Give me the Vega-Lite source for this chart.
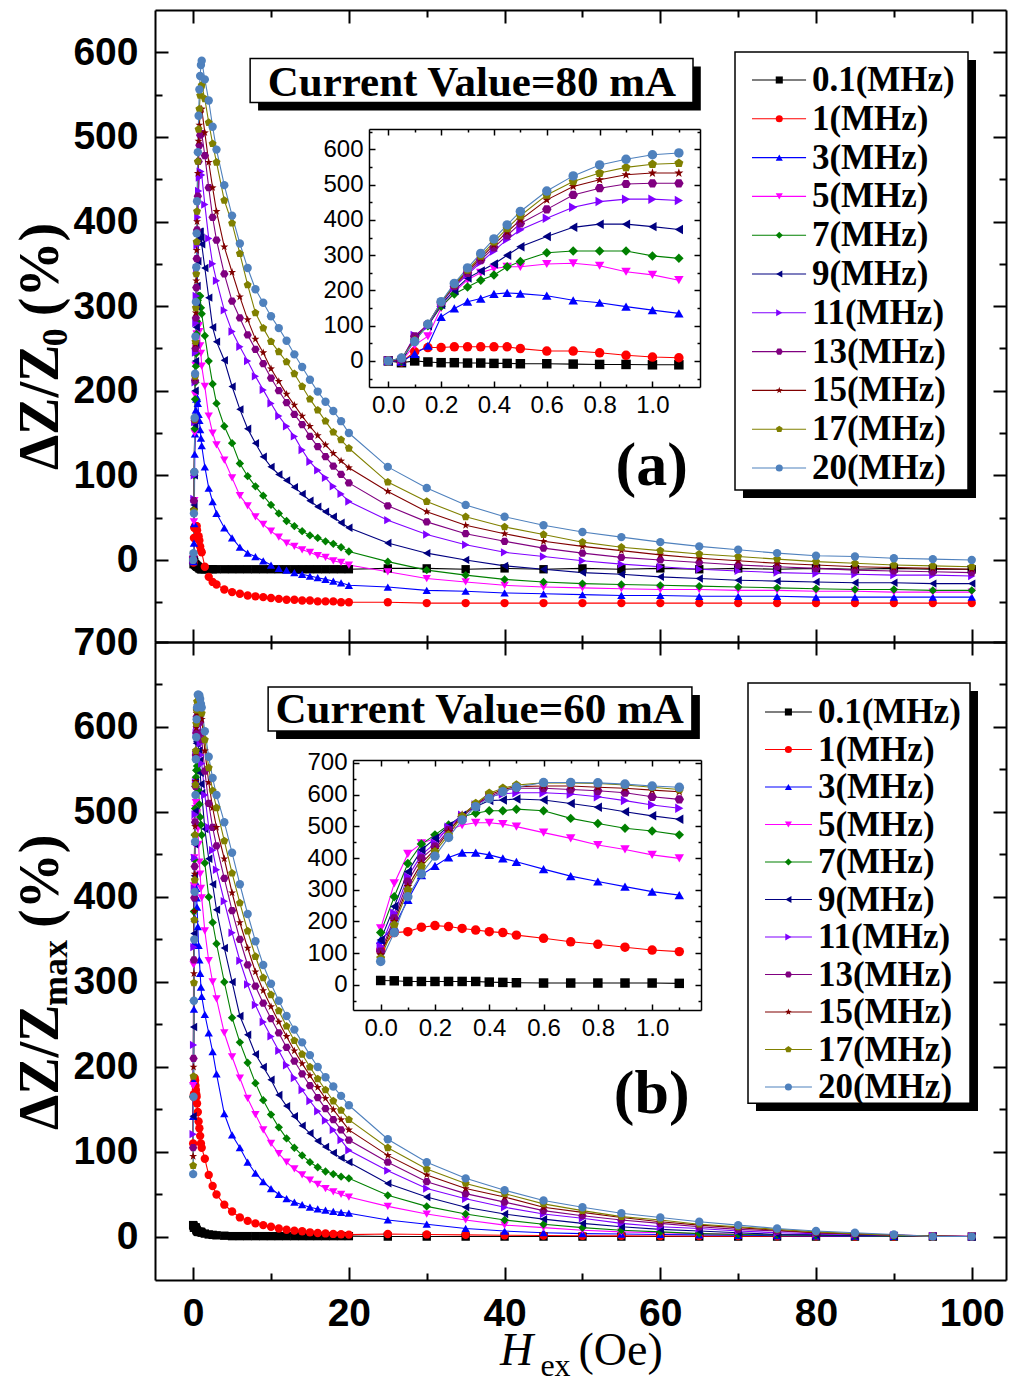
{
"$schema":"https://vega.github.io/schema/vega-lite/v6.json",
"width":851,"height":1270,
"autosize":{"type":"none"},
"padding":{"left":155,"top":10,"right":3,"bottom":103},
"background":"white",
"config":{"view":{"stroke":null},"axis":{"domainColor":"black","domainWidth":2,"tickColor":"black","tickWidth":2,"grid":false,"labelColor":"black","labelFlush":false,"labelOverlap":false}},
"datasets":{
"one":[{"k":0}],
"leg":[{"s":"0.1","label":"0.1(MHz)","r":0},{"s":"1","label":"1(MHz)","r":1},{"s":"3","label":"3(MHz)","r":2},{"s":"5","label":"5(MHz)","r":3},{"s":"7","label":"7(MHz)","r":4},{"s":"9","label":"9(MHz)","r":5},{"s":"11","label":"11(MHz)","r":6},{"s":"13","label":"13(MHz)","r":7},{"s":"15","label":"15(MHz)","r":8},{"s":"17","label":"17(MHz)","r":9},{"s":"20","label":"20(MHz)","r":10}],
"pa":[
{"s":"0.1","h":0,"z":0},{"s":"0.1","h":0.05,"z":-5},{"s":"0.1","h":0.1,"z":0},{"s":"0.1","h":0.15,"z":-3},{"s":"0.1","h":0.2,"z":-5},{"s":"0.1","h":0.25,"z":-5},{"s":"0.1","h":0.3,"z":-6},{"s":"0.1","h":0.35,"z":-6},{"s":"0.1","h":0.4,"z":-7},{"s":"0.1","h":0.45,"z":-7},{"s":"0.1","h":0.5,"z":-8},{"s":"0.1","h":0.6,"z":-8},{"s":"0.1","h":0.7,"z":-9},{"s":"0.1","h":0.8,"z":-10},{"s":"0.1","h":0.9,"z":-10},{"s":"0.1","h":1,"z":-11},{"s":"0.1","h":1.1,"z":-11},{"s":"0.1","h":1.5,"z":-11},{"s":"0.1","h":2,"z":-11},{"s":"0.1","h":2.5,"z":-11},{"s":"0.1","h":3,"z":-11},{"s":"0.1","h":4,"z":-11},{"s":"0.1","h":5,"z":-11},{"s":"0.1","h":6,"z":-11},{"s":"0.1","h":7,"z":-11},{"s":"0.1","h":8,"z":-11},{"s":"0.1","h":9,"z":-11},{"s":"0.1","h":10,"z":-11},{"s":"0.1","h":11,"z":-11},{"s":"0.1","h":12,"z":-11},{"s":"0.1","h":13,"z":-11},{"s":"0.1","h":14,"z":-11},{"s":"0.1","h":15,"z":-11},{"s":"0.1","h":16,"z":-11},{"s":"0.1","h":17,"z":-11},{"s":"0.1","h":18,"z":-11},{"s":"0.1","h":19,"z":-11},{"s":"0.1","h":20,"z":-11},{"s":"0.1","h":25,"z":-10},{"s":"0.1","h":30,"z":-10},{"s":"0.1","h":35,"z":-11},{"s":"0.1","h":40,"z":-10},{"s":"0.1","h":45,"z":-11},{"s":"0.1","h":50,"z":-10},{"s":"0.1","h":55,"z":-11},{"s":"0.1","h":60,"z":-10},{"s":"0.1","h":65,"z":-11},{"s":"0.1","h":70,"z":-10},{"s":"0.1","h":75,"z":-11},{"s":"0.1","h":80,"z":-10},{"s":"0.1","h":85,"z":-11},{"s":"0.1","h":90,"z":-10},{"s":"0.1","h":95,"z":-11},{"s":"0.1","h":100,"z":-11},
{"s":"1","h":0,"z":0},{"s":"1","h":0.05,"z":-3},{"s":"1","h":0.1,"z":26},{"s":"1","h":0.15,"z":38},{"s":"1","h":0.2,"z":38},{"s":"1","h":0.25,"z":40},{"s":"1","h":0.3,"z":40},{"s":"1","h":0.35,"z":40},{"s":"1","h":0.4,"z":40},{"s":"1","h":0.45,"z":40},{"s":"1","h":0.5,"z":35},{"s":"1","h":0.6,"z":28},{"s":"1","h":0.7,"z":28},{"s":"1","h":0.8,"z":23},{"s":"1","h":0.9,"z":16},{"s":"1","h":1,"z":11},{"s":"1","h":1.1,"z":9},{"s":"1","h":1.5,"z":-8},{"s":"1","h":2,"z":-20},{"s":"1","h":2.5,"z":-26},{"s":"1","h":3,"z":-29},{"s":"1","h":4,"z":-35},{"s":"1","h":5,"z":-38},{"s":"1","h":6,"z":-40},{"s":"1","h":7,"z":-42},{"s":"1","h":8,"z":-43},{"s":"1","h":9,"z":-44},{"s":"1","h":10,"z":-45},{"s":"1","h":11,"z":-46},{"s":"1","h":12,"z":-47},{"s":"1","h":13,"z":-47},{"s":"1","h":14,"z":-48},{"s":"1","h":15,"z":-48},{"s":"1","h":16,"z":-49},{"s":"1","h":17,"z":-49},{"s":"1","h":18,"z":-49},{"s":"1","h":19,"z":-50},{"s":"1","h":20,"z":-50},{"s":"1","h":25,"z":-50},{"s":"1","h":30,"z":-51},{"s":"1","h":35,"z":-51},{"s":"1","h":40,"z":-51},{"s":"1","h":45,"z":-51},{"s":"1","h":50,"z":-51},{"s":"1","h":55,"z":-51},{"s":"1","h":60,"z":-51},{"s":"1","h":65,"z":-51},{"s":"1","h":70,"z":-51},{"s":"1","h":75,"z":-51},{"s":"1","h":80,"z":-51},{"s":"1","h":85,"z":-51},{"s":"1","h":90,"z":-51},{"s":"1","h":95,"z":-51},{"s":"1","h":100,"z":-51},
{"s":"3","h":0,"z":0},{"s":"3","h":0.05,"z":-2},{"s":"3","h":0.1,"z":20},{"s":"3","h":0.15,"z":43},{"s":"3","h":0.2,"z":125},{"s":"3","h":0.25,"z":149},{"s":"3","h":0.3,"z":168},{"s":"3","h":0.35,"z":177},{"s":"3","h":0.4,"z":190},{"s":"3","h":0.45,"z":193},{"s":"3","h":0.5,"z":191},{"s":"3","h":0.6,"z":185},{"s":"3","h":0.7,"z":172},{"s":"3","h":0.8,"z":165},{"s":"3","h":0.9,"z":154},{"s":"3","h":1,"z":144},{"s":"3","h":1.1,"z":135},{"s":"3","h":1.5,"z":110},{"s":"3","h":2,"z":85},{"s":"3","h":2.5,"z":69},{"s":"3","h":3,"z":55},{"s":"3","h":4,"z":38},{"s":"3","h":5,"z":26},{"s":"3","h":6,"z":15},{"s":"3","h":7,"z":8},{"s":"3","h":8,"z":4},{"s":"3","h":9,"z":-1},{"s":"3","h":10,"z":-6},{"s":"3","h":11,"z":-10},{"s":"3","h":12,"z":-12},{"s":"3","h":13,"z":-15},{"s":"3","h":14,"z":-17},{"s":"3","h":15,"z":-19},{"s":"3","h":16,"z":-21},{"s":"3","h":17,"z":-23},{"s":"3","h":18,"z":-25},{"s":"3","h":19,"z":-27},{"s":"3","h":20,"z":-30},{"s":"3","h":25,"z":-32},{"s":"3","h":30,"z":-36},{"s":"3","h":35,"z":-37},{"s":"3","h":40,"z":-39},{"s":"3","h":45,"z":-40},{"s":"3","h":50,"z":-41},{"s":"3","h":55,"z":-42},{"s":"3","h":60,"z":-42},{"s":"3","h":65,"z":-43},{"s":"3","h":70,"z":-43},{"s":"3","h":75,"z":-43},{"s":"3","h":80,"z":-44},{"s":"3","h":85,"z":-44},{"s":"3","h":90,"z":-44},{"s":"3","h":95,"z":-44},{"s":"3","h":100,"z":-44},
{"s":"5","h":0,"z":0},{"s":"5","h":0.05,"z":0},{"s":"5","h":0.1,"z":45},{"s":"5","h":0.15,"z":70},{"s":"5","h":0.2,"z":150},{"s":"5","h":0.25,"z":195},{"s":"5","h":0.3,"z":230},{"s":"5","h":0.35,"z":250},{"s":"5","h":0.4,"z":262},{"s":"5","h":0.45,"z":267},{"s":"5","h":0.5,"z":267},{"s":"5","h":0.6,"z":275},{"s":"5","h":0.7,"z":277},{"s":"5","h":0.8,"z":270},{"s":"5","h":0.9,"z":253},{"s":"5","h":1,"z":244},{"s":"5","h":1.1,"z":229},{"s":"5","h":1.5,"z":205},{"s":"5","h":2,"z":170},{"s":"5","h":2.5,"z":150},{"s":"5","h":3,"z":136},{"s":"5","h":4,"z":118},{"s":"5","h":5,"z":97},{"s":"5","h":6,"z":76},{"s":"5","h":7,"z":64},{"s":"5","h":8,"z":51},{"s":"5","h":9,"z":42},{"s":"5","h":10,"z":34},{"s":"5","h":11,"z":27},{"s":"5","h":12,"z":20},{"s":"5","h":13,"z":16},{"s":"5","h":14,"z":12},{"s":"5","h":15,"z":9},{"s":"5","h":16,"z":5},{"s":"5","h":17,"z":3},{"s":"5","h":18,"z":-1},{"s":"5","h":19,"z":-3},{"s":"5","h":20,"z":-6},{"s":"5","h":25,"z":-14},{"s":"5","h":30,"z":-22},{"s":"5","h":35,"z":-26},{"s":"5","h":40,"z":-30},{"s":"5","h":45,"z":-32},{"s":"5","h":50,"z":-33},{"s":"5","h":55,"z":-34},{"s":"5","h":60,"z":-35},{"s":"5","h":65,"z":-35},{"s":"5","h":70,"z":-36},{"s":"5","h":75,"z":-36},{"s":"5","h":80,"z":-37},{"s":"5","h":85,"z":-37},{"s":"5","h":90,"z":-38},{"s":"5","h":95,"z":-38},{"s":"5","h":100,"z":-38},
{"s":"7","h":0,"z":0},{"s":"7","h":0.05,"z":0},{"s":"7","h":0.1,"z":60},{"s":"7","h":0.15,"z":100},{"s":"7","h":0.2,"z":155},{"s":"7","h":0.25,"z":190},{"s":"7","h":0.3,"z":210},{"s":"7","h":0.35,"z":229},{"s":"7","h":0.4,"z":244},{"s":"7","h":0.45,"z":267},{"s":"7","h":0.5,"z":282},{"s":"7","h":0.6,"z":307},{"s":"7","h":0.7,"z":312},{"s":"7","h":0.8,"z":312},{"s":"7","h":0.9,"z":312},{"s":"7","h":1,"z":298},{"s":"7","h":1.1,"z":291},{"s":"7","h":1.5,"z":265},{"s":"7","h":2,"z":235},{"s":"7","h":2.5,"z":208},{"s":"7","h":3,"z":185},{"s":"7","h":4,"z":158},{"s":"7","h":5,"z":138},{"s":"7","h":6,"z":114},{"s":"7","h":7,"z":99},{"s":"7","h":8,"z":87},{"s":"7","h":9,"z":76},{"s":"7","h":10,"z":65},{"s":"7","h":11,"z":55},{"s":"7","h":12,"z":46},{"s":"7","h":13,"z":40},{"s":"7","h":14,"z":34},{"s":"7","h":15,"z":29},{"s":"7","h":16,"z":26},{"s":"7","h":17,"z":22},{"s":"7","h":18,"z":19},{"s":"7","h":19,"z":15},{"s":"7","h":20,"z":10},{"s":"7","h":25,"z":-2},{"s":"7","h":30,"z":-12},{"s":"7","h":35,"z":-18},{"s":"7","h":40,"z":-23},{"s":"7","h":45,"z":-26},{"s":"7","h":50,"z":-28},{"s":"7","h":55,"z":-29},{"s":"7","h":60,"z":-30},{"s":"7","h":65,"z":-31},{"s":"7","h":70,"z":-32},{"s":"7","h":75,"z":-33},{"s":"7","h":80,"z":-34},{"s":"7","h":85,"z":-35},{"s":"7","h":90,"z":-35},{"s":"7","h":95,"z":-36},{"s":"7","h":100,"z":-36},
{"s":"9","h":0,"z":0},{"s":"9","h":0.05,"z":0},{"s":"9","h":0.1,"z":65},{"s":"9","h":0.15,"z":100},{"s":"9","h":0.2,"z":160},{"s":"9","h":0.25,"z":200},{"s":"9","h":0.3,"z":235},{"s":"9","h":0.35,"z":255},{"s":"9","h":0.4,"z":275},{"s":"9","h":0.45,"z":300},{"s":"9","h":0.5,"z":324},{"s":"9","h":0.6,"z":353},{"s":"9","h":0.7,"z":379},{"s":"9","h":0.8,"z":388},{"s":"9","h":0.9,"z":388},{"s":"9","h":1,"z":381},{"s":"9","h":1.1,"z":373},{"s":"9","h":1.5,"z":345},{"s":"9","h":2,"z":310},{"s":"9","h":2.5,"z":275},{"s":"9","h":3,"z":258},{"s":"9","h":4,"z":236},{"s":"9","h":5,"z":205},{"s":"9","h":6,"z":178},{"s":"9","h":7,"z":155},{"s":"9","h":8,"z":138},{"s":"9","h":9,"z":122},{"s":"9","h":10,"z":110},{"s":"9","h":11,"z":101},{"s":"9","h":12,"z":94},{"s":"9","h":13,"z":86},{"s":"9","h":14,"z":78},{"s":"9","h":15,"z":70},{"s":"9","h":16,"z":63},{"s":"9","h":17,"z":57},{"s":"9","h":18,"z":51},{"s":"9","h":19,"z":44},{"s":"9","h":20,"z":38},{"s":"9","h":25,"z":20},{"s":"9","h":30,"z":8},{"s":"9","h":35,"z":0},{"s":"9","h":40,"z":-7},{"s":"9","h":45,"z":-11},{"s":"9","h":50,"z":-15},{"s":"9","h":55,"z":-17},{"s":"9","h":60,"z":-20},{"s":"9","h":65,"z":-22},{"s":"9","h":70,"z":-24},{"s":"9","h":75,"z":-25},{"s":"9","h":80,"z":-26},{"s":"9","h":85,"z":-27},{"s":"9","h":90,"z":-27},{"s":"9","h":95,"z":-28},{"s":"9","h":100,"z":-28},
{"s":"11","h":0,"z":0},{"s":"11","h":0.05,"z":2},{"s":"11","h":0.1,"z":72},{"s":"11","h":0.15,"z":100},{"s":"11","h":0.2,"z":163},{"s":"11","h":0.25,"z":210},{"s":"11","h":0.3,"z":245},{"s":"11","h":0.35,"z":280},{"s":"11","h":0.4,"z":312},{"s":"11","h":0.45,"z":345},{"s":"11","h":0.5,"z":372},{"s":"11","h":0.6,"z":405},{"s":"11","h":0.7,"z":436},{"s":"11","h":0.8,"z":452},{"s":"11","h":0.9,"z":459},{"s":"11","h":1,"z":459},{"s":"11","h":1.1,"z":455},{"s":"11","h":1.5,"z":420},{"s":"11","h":2,"z":380},{"s":"11","h":2.5,"z":350},{"s":"11","h":3,"z":330},{"s":"11","h":4,"z":295},{"s":"11","h":5,"z":270},{"s":"11","h":6,"z":252},{"s":"11","h":7,"z":235},{"s":"11","h":8,"z":217},{"s":"11","h":9,"z":201},{"s":"11","h":10,"z":185},{"s":"11","h":11,"z":170},{"s":"11","h":12,"z":158},{"s":"11","h":13,"z":146},{"s":"11","h":14,"z":130},{"s":"11","h":15,"z":116},{"s":"11","h":16,"z":106},{"s":"11","h":17,"z":97},{"s":"11","h":18,"z":87},{"s":"11","h":19,"z":78},{"s":"11","h":20,"z":69},{"s":"11","h":25,"z":47},{"s":"11","h":30,"z":30},{"s":"11","h":35,"z":18},{"s":"11","h":40,"z":9},{"s":"11","h":45,"z":4},{"s":"11","h":50,"z":-1},{"s":"11","h":55,"z":-5},{"s":"11","h":60,"z":-8},{"s":"11","h":65,"z":-11},{"s":"11","h":70,"z":-13},{"s":"11","h":75,"z":-15},{"s":"11","h":80,"z":-16},{"s":"11","h":85,"z":-17},{"s":"11","h":90,"z":-18},{"s":"11","h":95,"z":-18},{"s":"11","h":100,"z":-19},
{"s":"13","h":0,"z":0},{"s":"13","h":0.05,"z":4},{"s":"13","h":0.1,"z":70},{"s":"13","h":0.15,"z":104},{"s":"13","h":0.2,"z":165},{"s":"13","h":0.25,"z":212},{"s":"13","h":0.3,"z":250},{"s":"13","h":0.35,"z":286},{"s":"13","h":0.4,"z":322},{"s":"13","h":0.45,"z":356},{"s":"13","h":0.5,"z":390},{"s":"13","h":0.6,"z":430},{"s":"13","h":0.7,"z":471},{"s":"13","h":0.8,"z":490},{"s":"13","h":0.9,"z":502},{"s":"13","h":1,"z":504},{"s":"13","h":1.1,"z":504},{"s":"13","h":1.5,"z":478},{"s":"13","h":2,"z":440},{"s":"13","h":2.5,"z":405},{"s":"13","h":3,"z":378},{"s":"13","h":4,"z":338},{"s":"13","h":5,"z":306},{"s":"13","h":6,"z":286},{"s":"13","h":7,"z":266},{"s":"13","h":8,"z":249},{"s":"13","h":9,"z":232},{"s":"13","h":10,"z":215},{"s":"13","h":11,"z":200},{"s":"13","h":12,"z":186},{"s":"13","h":13,"z":172},{"s":"13","h":14,"z":160},{"s":"13","h":15,"z":146},{"s":"13","h":16,"z":134},{"s":"13","h":17,"z":122},{"s":"13","h":18,"z":111},{"s":"13","h":19,"z":101},{"s":"13","h":20,"z":91},{"s":"13","h":25,"z":64},{"s":"13","h":30,"z":45},{"s":"13","h":35,"z":31},{"s":"13","h":40,"z":22},{"s":"13","h":45,"z":14},{"s":"13","h":50,"z":8},{"s":"13","h":55,"z":3},{"s":"13","h":60,"z":0},{"s":"13","h":65,"z":-3},{"s":"13","h":70,"z":-6},{"s":"13","h":75,"z":-8},{"s":"13","h":80,"z":-10},{"s":"13","h":85,"z":-12},{"s":"13","h":90,"z":-13},{"s":"13","h":95,"z":-14},{"s":"13","h":100,"z":-15},
{"s":"15","h":0,"z":0},{"s":"15","h":0.05,"z":6},{"s":"15","h":0.1,"z":60},{"s":"15","h":0.15,"z":104},{"s":"15","h":0.2,"z":166},{"s":"15","h":0.25,"z":215},{"s":"15","h":0.3,"z":255},{"s":"15","h":0.35,"z":292},{"s":"15","h":0.4,"z":330},{"s":"15","h":0.45,"z":366},{"s":"15","h":0.5,"z":400},{"s":"15","h":0.6,"z":457},{"s":"15","h":0.7,"z":495},{"s":"15","h":0.8,"z":514},{"s":"15","h":0.9,"z":528},{"s":"15","h":1,"z":533},{"s":"15","h":1.1,"z":533},{"s":"15","h":1.5,"z":505},{"s":"15","h":2,"z":470},{"s":"15","h":2.5,"z":440},{"s":"15","h":3,"z":412},{"s":"15","h":4,"z":370},{"s":"15","h":5,"z":340},{"s":"15","h":6,"z":311},{"s":"15","h":7,"z":284},{"s":"15","h":8,"z":261},{"s":"15","h":9,"z":245},{"s":"15","h":10,"z":226},{"s":"15","h":11,"z":211},{"s":"15","h":12,"z":196},{"s":"15","h":13,"z":183},{"s":"15","h":14,"z":170},{"s":"15","h":15,"z":158},{"s":"15","h":16,"z":147},{"s":"15","h":17,"z":136},{"s":"15","h":18,"z":126},{"s":"15","h":19,"z":117},{"s":"15","h":20,"z":109},{"s":"15","h":25,"z":81},{"s":"15","h":30,"z":57},{"s":"15","h":35,"z":41},{"s":"15","h":40,"z":31},{"s":"15","h":45,"z":22},{"s":"15","h":50,"z":16},{"s":"15","h":55,"z":11},{"s":"15","h":60,"z":6},{"s":"15","h":65,"z":2},{"s":"15","h":70,"z":-1},{"s":"15","h":75,"z":-4},{"s":"15","h":80,"z":-6},{"s":"15","h":85,"z":-8},{"s":"15","h":90,"z":-9},{"s":"15","h":95,"z":-10},{"s":"15","h":100,"z":-11},
{"s":"17","h":0,"z":0},{"s":"17","h":0.05,"z":8},{"s":"17","h":0.1,"z":58},{"s":"17","h":0.15,"z":104},{"s":"17","h":0.2,"z":166},{"s":"17","h":0.25,"z":217},{"s":"17","h":0.3,"z":258},{"s":"17","h":0.35,"z":298},{"s":"17","h":0.4,"z":338},{"s":"17","h":0.45,"z":376},{"s":"17","h":0.5,"z":412},{"s":"17","h":0.6,"z":471},{"s":"17","h":0.7,"z":509},{"s":"17","h":0.8,"z":533},{"s":"17","h":0.9,"z":549},{"s":"17","h":1,"z":558},{"s":"17","h":1.1,"z":561},{"s":"17","h":1.5,"z":545},{"s":"17","h":2,"z":517},{"s":"17","h":2.5,"z":492},{"s":"17","h":3,"z":470},{"s":"17","h":4,"z":425},{"s":"17","h":5,"z":398},{"s":"17","h":6,"z":362},{"s":"17","h":7,"z":325},{"s":"17","h":8,"z":292},{"s":"17","h":9,"z":274},{"s":"17","h":10,"z":258},{"s":"17","h":11,"z":246},{"s":"17","h":12,"z":234},{"s":"17","h":13,"z":220},{"s":"17","h":14,"z":205},{"s":"17","h":15,"z":190},{"s":"17","h":16,"z":177},{"s":"17","h":17,"z":164},{"s":"17","h":18,"z":151},{"s":"17","h":19,"z":142},{"s":"17","h":20,"z":132},{"s":"17","h":25,"z":92},{"s":"17","h":30,"z":69},{"s":"17","h":35,"z":51},{"s":"17","h":40,"z":39},{"s":"17","h":45,"z":30},{"s":"17","h":50,"z":21},{"s":"17","h":55,"z":15},{"s":"17","h":60,"z":11},{"s":"17","h":65,"z":7},{"s":"17","h":70,"z":4},{"s":"17","h":75,"z":1},{"s":"17","h":80,"z":-2},{"s":"17","h":85,"z":-4},{"s":"17","h":90,"z":-6},{"s":"17","h":95,"z":-7},{"s":"17","h":100,"z":-8},
{"s":"20","h":0,"z":0},{"s":"20","h":0.05,"z":8},{"s":"20","h":0.1,"z":55},{"s":"20","h":0.15,"z":104},{"s":"20","h":0.2,"z":168},{"s":"20","h":0.25,"z":220},{"s":"20","h":0.3,"z":264},{"s":"20","h":0.35,"z":305},{"s":"20","h":0.4,"z":346},{"s":"20","h":0.45,"z":386},{"s":"20","h":0.5,"z":424},{"s":"20","h":0.6,"z":482},{"s":"20","h":0.7,"z":525},{"s":"20","h":0.8,"z":556},{"s":"20","h":0.9,"z":572},{"s":"20","h":1,"z":585},{"s":"20","h":1.1,"z":590},{"s":"20","h":1.5,"z":568},{"s":"20","h":2,"z":543},{"s":"20","h":2.5,"z":512},{"s":"20","h":3,"z":485},{"s":"20","h":4,"z":443},{"s":"20","h":5,"z":407},{"s":"20","h":6,"z":374},{"s":"20","h":7,"z":345},{"s":"20","h":8,"z":320},{"s":"20","h":9,"z":304},{"s":"20","h":10,"z":288},{"s":"20","h":11,"z":274},{"s":"20","h":12,"z":259},{"s":"20","h":13,"z":243},{"s":"20","h":14,"z":228},{"s":"20","h":15,"z":213},{"s":"20","h":16,"z":199},{"s":"20","h":17,"z":187},{"s":"20","h":18,"z":176},{"s":"20","h":19,"z":164},{"s":"20","h":20,"z":150},{"s":"20","h":25,"z":110},{"s":"20","h":30,"z":85},{"s":"20","h":35,"z":65},{"s":"20","h":40,"z":51},{"s":"20","h":45,"z":41},{"s":"20","h":50,"z":33},{"s":"20","h":55,"z":27},{"s":"20","h":60,"z":21},{"s":"20","h":65,"z":16},{"s":"20","h":70,"z":12},{"s":"20","h":75,"z":8},{"s":"20","h":80,"z":5},{"s":"20","h":85,"z":4},{"s":"20","h":90,"z":2},{"s":"20","h":95,"z":1},{"s":"20","h":100,"z":0}
],
"pb":[
{"s":"0.1","h":0,"z":14},{"s":"0.1","h":0.05,"z":13},{"s":"0.1","h":0.1,"z":11},{"s":"0.1","h":0.15,"z":11},{"s":"0.1","h":0.2,"z":11},{"s":"0.1","h":0.25,"z":11},{"s":"0.1","h":0.3,"z":11},{"s":"0.1","h":0.35,"z":11},{"s":"0.1","h":0.4,"z":9},{"s":"0.1","h":0.45,"z":8},{"s":"0.1","h":0.5,"z":7},{"s":"0.1","h":0.6,"z":6},{"s":"0.1","h":0.7,"z":6},{"s":"0.1","h":0.8,"z":6},{"s":"0.1","h":0.9,"z":6},{"s":"0.1","h":1,"z":6},{"s":"0.1","h":1.1,"z":5},{"s":"0.1","h":1.5,"z":4},{"s":"0.1","h":2,"z":3},{"s":"0.1","h":2.5,"z":2.5},{"s":"0.1","h":3,"z":2},{"s":"0.1","h":4,"z":1.5},{"s":"0.1","h":5,"z":1},{"s":"0.1","h":6,"z":1},{"s":"0.1","h":7,"z":1},{"s":"0.1","h":8,"z":1},{"s":"0.1","h":9,"z":1},{"s":"0.1","h":10,"z":1},{"s":"0.1","h":11,"z":1},{"s":"0.1","h":12,"z":1},{"s":"0.1","h":13,"z":1},{"s":"0.1","h":14,"z":1},{"s":"0.1","h":15,"z":1},{"s":"0.1","h":16,"z":1},{"s":"0.1","h":17,"z":1},{"s":"0.1","h":18,"z":1},{"s":"0.1","h":19,"z":1},{"s":"0.1","h":20,"z":1},{"s":"0.1","h":25,"z":0.5},{"s":"0.1","h":30,"z":0.5},{"s":"0.1","h":35,"z":0.5},{"s":"0.1","h":40,"z":0.5},{"s":"0.1","h":45,"z":0.5},{"s":"0.1","h":50,"z":0.5},{"s":"0.1","h":55,"z":0.5},{"s":"0.1","h":60,"z":0.5},{"s":"0.1","h":65,"z":0.5},{"s":"0.1","h":70,"z":0.5},{"s":"0.1","h":75,"z":0.5},{"s":"0.1","h":80,"z":0.5},{"s":"0.1","h":85,"z":0.5},{"s":"0.1","h":90,"z":0.5},{"s":"0.1","h":95,"z":0.5},{"s":"0.1","h":100,"z":0.5},
{"s":"1","h":0,"z":110},{"s":"1","h":0.05,"z":165},{"s":"1","h":0.1,"z":168},{"s":"1","h":0.15,"z":182},{"s":"1","h":0.2,"z":187},{"s":"1","h":0.25,"z":184},{"s":"1","h":0.3,"z":178},{"s":"1","h":0.35,"z":173},{"s":"1","h":0.4,"z":168},{"s":"1","h":0.45,"z":165},{"s":"1","h":0.5,"z":157},{"s":"1","h":0.6,"z":147},{"s":"1","h":0.7,"z":136},{"s":"1","h":0.8,"z":128},{"s":"1","h":0.9,"z":119},{"s":"1","h":1,"z":110},{"s":"1","h":1.1,"z":105},{"s":"1","h":1.5,"z":92},{"s":"1","h":2,"z":73},{"s":"1","h":2.5,"z":60},{"s":"1","h":3,"z":50},{"s":"1","h":4,"z":38},{"s":"1","h":5,"z":30},{"s":"1","h":6,"z":23},{"s":"1","h":7,"z":19},{"s":"1","h":8,"z":16},{"s":"1","h":9,"z":14},{"s":"1","h":10,"z":12},{"s":"1","h":11,"z":10},{"s":"1","h":12,"z":8.5},{"s":"1","h":13,"z":7.5},{"s":"1","h":14,"z":6.7},{"s":"1","h":15,"z":5.5},{"s":"1","h":16,"z":4.7},{"s":"1","h":17,"z":4.2},{"s":"1","h":18,"z":3.6},{"s":"1","h":19,"z":3.2},{"s":"1","h":20,"z":2.8},{"s":"1","h":25,"z":3.5},{"s":"1","h":30,"z":3},{"s":"1","h":35,"z":2.5},{"s":"1","h":40,"z":2},{"s":"1","h":45,"z":1.8},{"s":"1","h":50,"z":1.5},{"s":"1","h":55,"z":1.3},{"s":"1","h":60,"z":1.2},{"s":"1","h":65,"z":1},{"s":"1","h":70,"z":1},{"s":"1","h":75,"z":0.8},{"s":"1","h":80,"z":0.8},{"s":"1","h":85,"z":0.6},{"s":"1","h":90,"z":0.6},{"s":"1","h":95,"z":0.5},{"s":"1","h":100,"z":0.5},
{"s":"3","h":0,"z":142},{"s":"3","h":0.05,"z":184},{"s":"3","h":0.1,"z":268},{"s":"3","h":0.15,"z":346},{"s":"3","h":0.2,"z":375},{"s":"3","h":0.25,"z":402},{"s":"3","h":0.3,"z":417},{"s":"3","h":0.35,"z":417},{"s":"3","h":0.4,"z":410},{"s":"3","h":0.45,"z":399},{"s":"3","h":0.5,"z":388},{"s":"3","h":0.6,"z":365},{"s":"3","h":0.7,"z":343},{"s":"3","h":0.8,"z":326},{"s":"3","h":0.9,"z":310},{"s":"3","h":1,"z":294},{"s":"3","h":1.1,"z":283},{"s":"3","h":1.5,"z":262},{"s":"3","h":2,"z":240},{"s":"3","h":2.5,"z":218},{"s":"3","h":3,"z":192},{"s":"3","h":4,"z":145},{"s":"3","h":5,"z":120},{"s":"3","h":6,"z":105},{"s":"3","h":7,"z":88},{"s":"3","h":8,"z":75},{"s":"3","h":9,"z":65},{"s":"3","h":10,"z":57},{"s":"3","h":11,"z":50},{"s":"3","h":12,"z":45},{"s":"3","h":13,"z":41},{"s":"3","h":14,"z":38},{"s":"3","h":15,"z":35},{"s":"3","h":16,"z":33},{"s":"3","h":17,"z":31.5},{"s":"3","h":18,"z":30},{"s":"3","h":19,"z":29},{"s":"3","h":20,"z":28},{"s":"3","h":25,"z":20},{"s":"3","h":30,"z":15},{"s":"3","h":35,"z":10},{"s":"3","h":40,"z":7},{"s":"3","h":45,"z":5},{"s":"3","h":50,"z":4},{"s":"3","h":55,"z":3.5},{"s":"3","h":60,"z":3},{"s":"3","h":65,"z":2.5},{"s":"3","h":70,"z":2},{"s":"3","h":75,"z":1.5},{"s":"3","h":80,"z":1.2},{"s":"3","h":85,"z":1},{"s":"3","h":90,"z":0.8},{"s":"3","h":95,"z":0.6},{"s":"3","h":100,"z":0.5},
{"s":"5","h":0,"z":178},{"s":"5","h":0.05,"z":320},{"s":"5","h":0.1,"z":413},{"s":"5","h":0.15,"z":446},{"s":"5","h":0.2,"z":462},{"s":"5","h":0.25,"z":488},{"s":"5","h":0.3,"z":504},{"s":"5","h":0.35,"z":511},{"s":"5","h":0.4,"z":511},{"s":"5","h":0.45,"z":507},{"s":"5","h":0.5,"z":499},{"s":"5","h":0.6,"z":480},{"s":"5","h":0.7,"z":462},{"s":"5","h":0.8,"z":441},{"s":"5","h":0.9,"z":427},{"s":"5","h":1,"z":410},{"s":"5","h":1.1,"z":399},{"s":"5","h":1.5,"z":360},{"s":"5","h":2,"z":325},{"s":"5","h":2.5,"z":300},{"s":"5","h":3,"z":280},{"s":"5","h":4,"z":240},{"s":"5","h":5,"z":212},{"s":"5","h":6,"z":187},{"s":"5","h":7,"z":163},{"s":"5","h":8,"z":144},{"s":"5","h":9,"z":126},{"s":"5","h":10,"z":110},{"s":"5","h":11,"z":98},{"s":"5","h":12,"z":88},{"s":"5","h":13,"z":80},{"s":"5","h":14,"z":73},{"s":"5","h":15,"z":67},{"s":"5","h":16,"z":62},{"s":"5","h":17,"z":57},{"s":"5","h":18,"z":53},{"s":"5","h":19,"z":50},{"s":"5","h":20,"z":47},{"s":"5","h":25,"z":36},{"s":"5","h":30,"z":27},{"s":"5","h":35,"z":20},{"s":"5","h":40,"z":14},{"s":"5","h":45,"z":11},{"s":"5","h":50,"z":8},{"s":"5","h":55,"z":6},{"s":"5","h":60,"z":5},{"s":"5","h":65,"z":4},{"s":"5","h":70,"z":3.5},{"s":"5","h":75,"z":3},{"s":"5","h":80,"z":2.5},{"s":"5","h":85,"z":2},{"s":"5","h":90,"z":1.5},{"s":"5","h":95,"z":1},{"s":"5","h":100,"z":0.8},
{"s":"7","h":0,"z":165},{"s":"7","h":0.05,"z":278},{"s":"7","h":0.1,"z":383},{"s":"7","h":0.15,"z":444},{"s":"7","h":0.2,"z":473},{"s":"7","h":0.25,"z":504},{"s":"7","h":0.3,"z":530},{"s":"7","h":0.35,"z":541},{"s":"7","h":0.4,"z":549},{"s":"7","h":0.45,"z":549},{"s":"7","h":0.5,"z":554},{"s":"7","h":0.6,"z":549},{"s":"7","h":0.7,"z":525},{"s":"7","h":0.8,"z":509},{"s":"7","h":0.9,"z":494},{"s":"7","h":1,"z":485},{"s":"7","h":1.1,"z":473},{"s":"7","h":1.5,"z":440},{"s":"7","h":2,"z":400},{"s":"7","h":2.5,"z":370},{"s":"7","h":3,"z":345},{"s":"7","h":4,"z":300},{"s":"7","h":5,"z":258},{"s":"7","h":6,"z":229},{"s":"7","h":7,"z":205},{"s":"7","h":8,"z":181},{"s":"7","h":9,"z":161},{"s":"7","h":10,"z":144},{"s":"7","h":11,"z":129},{"s":"7","h":12,"z":116},{"s":"7","h":13,"z":105},{"s":"7","h":14,"z":96},{"s":"7","h":15,"z":88},{"s":"7","h":16,"z":82},{"s":"7","h":17,"z":77},{"s":"7","h":18,"z":74},{"s":"7","h":19,"z":71},{"s":"7","h":20,"z":69},{"s":"7","h":25,"z":49},{"s":"7","h":30,"z":36},{"s":"7","h":35,"z":27},{"s":"7","h":40,"z":20},{"s":"7","h":45,"z":15},{"s":"7","h":50,"z":11},{"s":"7","h":55,"z":8},{"s":"7","h":60,"z":6},{"s":"7","h":65,"z":4},{"s":"7","h":70,"z":3},{"s":"7","h":75,"z":2.5},{"s":"7","h":80,"z":2},{"s":"7","h":85,"z":1.5},{"s":"7","h":90,"z":1},{"s":"7","h":95,"z":0.5},{"s":"7","h":100,"z":0.5},
{"s":"9","h":0,"z":142},{"s":"9","h":0.05,"z":247},{"s":"9","h":0.1,"z":357},{"s":"9","h":0.15,"z":425},{"s":"9","h":0.2,"z":462},{"s":"9","h":0.25,"z":501},{"s":"9","h":0.3,"z":535},{"s":"9","h":0.35,"z":562},{"s":"9","h":0.4,"z":581},{"s":"9","h":0.45,"z":583},{"s":"9","h":0.5,"z":586},{"s":"9","h":0.6,"z":583},{"s":"9","h":0.7,"z":572},{"s":"9","h":0.8,"z":560},{"s":"9","h":0.9,"z":546},{"s":"9","h":1,"z":533},{"s":"9","h":1.1,"z":522},{"s":"9","h":1.5,"z":480},{"s":"9","h":2,"z":445},{"s":"9","h":2.5,"z":415},{"s":"9","h":3,"z":385},{"s":"9","h":4,"z":340},{"s":"9","h":5,"z":300},{"s":"9","h":6,"z":260},{"s":"9","h":7,"z":238},{"s":"9","h":8,"z":215},{"s":"9","h":9,"z":200},{"s":"9","h":10,"z":185},{"s":"9","h":11,"z":167},{"s":"9","h":12,"z":154},{"s":"9","h":13,"z":142},{"s":"9","h":14,"z":131},{"s":"9","h":15,"z":122},{"s":"9","h":16,"z":113},{"s":"9","h":17,"z":106},{"s":"9","h":18,"z":99},{"s":"9","h":19,"z":93},{"s":"9","h":20,"z":88},{"s":"9","h":25,"z":63},{"s":"9","h":30,"z":47},{"s":"9","h":35,"z":35},{"s":"9","h":40,"z":27},{"s":"9","h":45,"z":21},{"s":"9","h":50,"z":16},{"s":"9","h":55,"z":12},{"s":"9","h":60,"z":9},{"s":"9","h":65,"z":7},{"s":"9","h":70,"z":5},{"s":"9","h":75,"z":3},{"s":"9","h":80,"z":2.5},{"s":"9","h":85,"z":2},{"s":"9","h":90,"z":1.5},{"s":"9","h":95,"z":1},{"s":"9","h":100,"z":0.5},
{"s":"11","h":0,"z":121},{"s":"11","h":0.05,"z":226},{"s":"11","h":0.1,"z":341},{"s":"11","h":0.15,"z":410},{"s":"11","h":0.2,"z":446},{"s":"11","h":0.25,"z":497},{"s":"11","h":0.3,"z":535},{"s":"11","h":0.35,"z":567},{"s":"11","h":0.4,"z":593},{"s":"11","h":0.45,"z":602},{"s":"11","h":0.5,"z":606},{"s":"11","h":0.6,"z":606},{"s":"11","h":0.7,"z":602},{"s":"11","h":0.8,"z":593},{"s":"11","h":0.9,"z":581},{"s":"11","h":1,"z":567},{"s":"11","h":1.1,"z":557},{"s":"11","h":1.5,"z":520},{"s":"11","h":2,"z":482},{"s":"11","h":2.5,"z":455},{"s":"11","h":3,"z":432},{"s":"11","h":4,"z":395},{"s":"11","h":5,"z":358},{"s":"11","h":6,"z":325},{"s":"11","h":7,"z":297},{"s":"11","h":8,"z":273},{"s":"11","h":9,"z":253},{"s":"11","h":10,"z":236},{"s":"11","h":11,"z":219},{"s":"11","h":12,"z":202},{"s":"11","h":13,"z":187},{"s":"11","h":14,"z":173},{"s":"11","h":15,"z":160},{"s":"11","h":16,"z":148},{"s":"11","h":17,"z":137},{"s":"11","h":18,"z":126},{"s":"11","h":19,"z":114},{"s":"11","h":20,"z":102},{"s":"11","h":25,"z":78},{"s":"11","h":30,"z":57},{"s":"11","h":35,"z":45},{"s":"11","h":40,"z":35},{"s":"11","h":45,"z":27},{"s":"11","h":50,"z":22},{"s":"11","h":55,"z":16},{"s":"11","h":60,"z":12},{"s":"11","h":65,"z":10},{"s":"11","h":70,"z":7},{"s":"11","h":75,"z":5},{"s":"11","h":80,"z":4},{"s":"11","h":85,"z":3},{"s":"11","h":90,"z":2},{"s":"11","h":95,"z":1},{"s":"11","h":100,"z":0.5},
{"s":"13","h":0,"z":105},{"s":"13","h":0.05,"z":210},{"s":"13","h":0.1,"z":326},{"s":"13","h":0.15,"z":399},{"s":"13","h":0.2,"z":436},{"s":"13","h":0.25,"z":488},{"s":"13","h":0.3,"z":530},{"s":"13","h":0.35,"z":567},{"s":"13","h":0.4,"z":593},{"s":"13","h":0.45,"z":612},{"s":"13","h":0.5,"z":620},{"s":"13","h":0.6,"z":620},{"s":"13","h":0.7,"z":616},{"s":"13","h":0.8,"z":612},{"s":"13","h":0.9,"z":606},{"s":"13","h":1,"z":593},{"s":"13","h":1.1,"z":585},{"s":"13","h":1.5,"z":548},{"s":"13","h":2,"z":510},{"s":"13","h":2.5,"z":482},{"s":"13","h":3,"z":460},{"s":"13","h":4,"z":422},{"s":"13","h":5,"z":384},{"s":"13","h":6,"z":350},{"s":"13","h":7,"z":320},{"s":"13","h":8,"z":295},{"s":"13","h":9,"z":275},{"s":"13","h":10,"z":257},{"s":"13","h":11,"z":240},{"s":"13","h":12,"z":223},{"s":"13","h":13,"z":207},{"s":"13","h":14,"z":192},{"s":"13","h":15,"z":178},{"s":"13","h":16,"z":164},{"s":"13","h":17,"z":151},{"s":"13","h":18,"z":138},{"s":"13","h":19,"z":126},{"s":"13","h":20,"z":114},{"s":"13","h":25,"z":88},{"s":"13","h":30,"z":65},{"s":"13","h":35,"z":51},{"s":"13","h":40,"z":41},{"s":"13","h":45,"z":31},{"s":"13","h":50,"z":25},{"s":"13","h":55,"z":20},{"s":"13","h":60,"z":16},{"s":"13","h":65,"z":12},{"s":"13","h":70,"z":9},{"s":"13","h":75,"z":7},{"s":"13","h":80,"z":5},{"s":"13","h":85,"z":3.5},{"s":"13","h":90,"z":2.5},{"s":"13","h":95,"z":1},{"s":"13","h":100,"z":0.5},
{"s":"15","h":0,"z":95},{"s":"15","h":0.05,"z":200},{"s":"15","h":0.1,"z":310},{"s":"15","h":0.15,"z":383},{"s":"15","h":0.2,"z":427},{"s":"15","h":0.25,"z":483},{"s":"15","h":0.3,"z":536},{"s":"15","h":0.35,"z":570},{"s":"15","h":0.4,"z":599},{"s":"15","h":0.45,"z":616},{"s":"15","h":0.5,"z":625},{"s":"15","h":0.6,"z":627},{"s":"15","h":0.7,"z":627},{"s":"15","h":0.8,"z":623},{"s":"15","h":0.9,"z":620},{"s":"15","h":1,"z":614},{"s":"15","h":1.1,"z":609},{"s":"15","h":1.5,"z":572},{"s":"15","h":2,"z":535},{"s":"15","h":2.5,"z":505},{"s":"15","h":3,"z":482},{"s":"15","h":4,"z":445},{"s":"15","h":5,"z":405},{"s":"15","h":6,"z":370},{"s":"15","h":7,"z":340},{"s":"15","h":8,"z":312},{"s":"15","h":9,"z":290},{"s":"15","h":10,"z":271},{"s":"15","h":11,"z":253},{"s":"15","h":12,"z":236},{"s":"15","h":13,"z":219},{"s":"15","h":14,"z":204},{"s":"15","h":15,"z":190},{"s":"15","h":16,"z":176},{"s":"15","h":17,"z":163},{"s":"15","h":18,"z":150},{"s":"15","h":19,"z":138},{"s":"15","h":20,"z":126},{"s":"15","h":25,"z":96},{"s":"15","h":30,"z":73},{"s":"15","h":35,"z":57},{"s":"15","h":40,"z":47},{"s":"15","h":45,"z":35},{"s":"15","h":50,"z":29},{"s":"15","h":55,"z":23},{"s":"15","h":60,"z":18},{"s":"15","h":65,"z":14},{"s":"15","h":70,"z":11},{"s":"15","h":75,"z":8},{"s":"15","h":80,"z":5},{"s":"15","h":85,"z":3.5},{"s":"15","h":90,"z":2},{"s":"15","h":95,"z":1},{"s":"15","h":100,"z":0.5},
{"s":"17","h":0,"z":84},{"s":"17","h":0.05,"z":189},{"s":"17","h":0.1,"z":299},{"s":"17","h":0.15,"z":373},{"s":"17","h":0.2,"z":420},{"s":"17","h":0.25,"z":473},{"s":"17","h":0.3,"z":532},{"s":"17","h":0.35,"z":572},{"s":"17","h":0.4,"z":604},{"s":"17","h":0.45,"z":620},{"s":"17","h":0.5,"z":630},{"s":"17","h":0.6,"z":637},{"s":"17","h":0.7,"z":637},{"s":"17","h":0.8,"z":635},{"s":"17","h":0.9,"z":630},{"s":"17","h":1,"z":623},{"s":"17","h":1.1,"z":616},{"s":"17","h":1.5,"z":585},{"s":"17","h":2,"z":552},{"s":"17","h":2.5,"z":525},{"s":"17","h":3,"z":505},{"s":"17","h":4,"z":466},{"s":"17","h":5,"z":428},{"s":"17","h":6,"z":393},{"s":"17","h":7,"z":360},{"s":"17","h":8,"z":330},{"s":"17","h":9,"z":305},{"s":"17","h":10,"z":285},{"s":"17","h":11,"z":266},{"s":"17","h":12,"z":248},{"s":"17","h":13,"z":231},{"s":"17","h":14,"z":215},{"s":"17","h":15,"z":200},{"s":"17","h":16,"z":186},{"s":"17","h":17,"z":173},{"s":"17","h":18,"z":160},{"s":"17","h":19,"z":149},{"s":"17","h":20,"z":138},{"s":"17","h":25,"z":105},{"s":"17","h":30,"z":80},{"s":"17","h":35,"z":63},{"s":"17","h":40,"z":51},{"s":"17","h":45,"z":39},{"s":"17","h":50,"z":31},{"s":"17","h":55,"z":24},{"s":"17","h":60,"z":20},{"s":"17","h":65,"z":15},{"s":"17","h":70,"z":12},{"s":"17","h":75,"z":9},{"s":"17","h":80,"z":6},{"s":"17","h":85,"z":4},{"s":"17","h":90,"z":2},{"s":"17","h":95,"z":1},{"s":"17","h":100,"z":0.5},
{"s":"20","h":0,"z":74},{"s":"20","h":0.05,"z":165},{"s":"20","h":0.1,"z":278},{"s":"20","h":0.15,"z":350},{"s":"20","h":0.2,"z":406},{"s":"20","h":0.25,"z":465},{"s":"20","h":0.3,"z":520},{"s":"20","h":0.35,"z":562},{"s":"20","h":0.4,"z":588},{"s":"20","h":0.45,"z":609},{"s":"20","h":0.5,"z":623},{"s":"20","h":0.6,"z":638},{"s":"20","h":0.7,"z":638},{"s":"20","h":0.8,"z":637},{"s":"20","h":0.9,"z":633},{"s":"20","h":1,"z":627},{"s":"20","h":1.1,"z":623},{"s":"20","h":1.5,"z":595},{"s":"20","h":2,"z":565},{"s":"20","h":2.5,"z":540},{"s":"20","h":3,"z":520},{"s":"20","h":4,"z":488},{"s":"20","h":5,"z":452},{"s":"20","h":6,"z":415},{"s":"20","h":7,"z":380},{"s":"20","h":8,"z":348},{"s":"20","h":9,"z":320},{"s":"20","h":10,"z":298},{"s":"20","h":11,"z":278},{"s":"20","h":12,"z":260},{"s":"20","h":13,"z":244},{"s":"20","h":14,"z":229},{"s":"20","h":15,"z":214},{"s":"20","h":16,"z":200},{"s":"20","h":17,"z":188},{"s":"20","h":18,"z":177},{"s":"20","h":19,"z":166},{"s":"20","h":20,"z":155},{"s":"20","h":25,"z":115},{"s":"20","h":30,"z":88},{"s":"20","h":35,"z":69},{"s":"20","h":40,"z":55},{"s":"20","h":45,"z":43},{"s":"20","h":50,"z":35},{"s":"20","h":55,"z":28},{"s":"20","h":60,"z":23},{"s":"20","h":65,"z":18},{"s":"20","h":70,"z":14},{"s":"20","h":75,"z":10},{"s":"20","h":80,"z":7},{"s":"20","h":85,"z":5},{"s":"20","h":90,"z":3},{"s":"20","h":95,"z":0.5},{"s":"20","h":100,"z":0.5}
]
},
"resolve":{"scale":{"x":"independent","y":"independent","color":"independent","shape":"independent"}},
"layer":[
{"data":{"name":"pa"},"mark":{"type":"line","strokeWidth":1.1},
 "encoding":{
  "x":{"field":"h","type":"quantitative","title":null,"scale":{"domain":[-4.9,104.4],"range":[0,851],"nice":false,"zero":false},"axis":{"orient":"bottom","offset":-638,"values":[0,20,40,60,80,100],"tickSize":-13,"labels":false}},
  "y":{"field":"z","type":"quantitative","title":null,"scale":{"domain":[-97,650],"range":[632,0],"nice":false,"zero":false},"axis":{"orient":"left","offset":0,"values":[0,100,200,300,400,500,600],"tickSize":-13,"labelPadding":30,"labelFont":"Liberation Sans","labelFontWeight":"bold","labelFontSize":39}},
  "color":{"field":"s","type":"nominal","legend":null,"scale":{"domain":["0.1","1","3","5","7","9","11","13","15","17","20"],"range":["#000000","#FF0000","#0000FF","#FF00FF","#008000","#000080","#8000FF","#800080","#800000","#808000","#4F81BD"]}}}},
{"data":{"name":"pa"},"mark":{"type":"point","filled":true,"size":70,"opacity":1},
 "encoding":{
  "x":{"field":"h","type":"quantitative","title":null,"scale":{"domain":[-4.9,104.4],"range":[0,851],"nice":false,"zero":false},"axis":{"orient":"bottom","offset":-638,"values":[10,30,50,70,90],"tickSize":-7,"labels":false,"domain":false}},
  "y":{"field":"z","type":"quantitative","title":null,"scale":{"domain":[-97,650],"range":[632,0],"nice":false,"zero":false},"axis":{"orient":"left","offset":0,"values":[-50,50,150,250,350,450,550],"tickSize":-7,"labels":false,"domain":false}},
  "color":{"field":"s","type":"nominal","legend":null,"scale":{"domain":["0.1","1","3","5","7","9","11","13","15","17","20"],"range":["#000000","#FF0000","#0000FF","#FF00FF","#008000","#000080","#8000FF","#800080","#800000","#808000","#4F81BD"]}},
  "shape":{"field":"s","type":"nominal","legend":null,"scale":{"domain":["0.1","1","3","5","7","9","11","13","15","17","20"],"range":["square","circle","triangle-up","triangle-down","diamond","triangle-left","triangle-right","M-1,0L-0.5,-0.866L0.5,-0.866L1,0L0.5,0.866L-0.5,0.866Z","M0,-1L0.235,-0.324L0.951,-0.309L0.38,0.124L0.588,0.809L0,0.4L-0.588,0.809L-0.38,0.124L-0.951,-0.309L-0.235,-0.324Z","M0,-1L0.951,-0.309L0.588,0.809L-0.588,0.809L-0.951,-0.309Z","circle"]}}}},
{"data":{"name":"one"},"mark":{"type":"point","opacity":0},
 "encoding":{
  "x":{"field":"k","type":"quantitative","title":null,"scale":{"domain":[-4.9,104.4],"range":[0,851],"nice":false,"zero":false},"axis":{"orient":"top","offset":0,"values":[0,20,40,60,80,100],"tickSize":-13,"labels":false}},
  "y":{"field":"k","type":"quantitative","title":null,"scale":{"domain":[-97,650],"range":[632,0],"nice":false,"zero":false},"axis":{"orient":"right","offset":0,"values":[0,100,200,300,400,500,600],"tickSize":-13,"labels":false}}}},
{"data":{"name":"one"},"mark":{"type":"point","opacity":0},
 "encoding":{
  "x":{"field":"k","type":"quantitative","title":null,"scale":{"domain":[-4.9,104.4],"range":[0,851],"nice":false,"zero":false},"axis":{"orient":"top","offset":0,"values":[10,30,50,70,90],"tickSize":-7,"labels":false,"domain":false}},
  "y":{"field":"k","type":"quantitative","title":null,"scale":{"domain":[-97,650],"range":[632,0],"nice":false,"zero":false},"axis":{"orient":"right","offset":0,"values":[-50,50,150,250,350,450,550],"tickSize":-7,"labels":false,"domain":false}}}},
{"data":{"name":"pb"},"mark":{"type":"line","strokeWidth":1.1},
 "encoding":{
  "x":{"field":"h","type":"quantitative","title":null,"scale":{"domain":[-4.9,104.4],"range":[0,851],"nice":false,"zero":false},"axis":{"orient":"bottom","offset":0,"values":[0,20,40,60,80,100],"tickSize":-13,"labelPadding":27,"labelFont":"Liberation Sans","labelFontWeight":"bold","labelFontSize":39}},
  "y":{"field":"z","type":"quantitative","title":null,"scale":{"domain":[-50.6,700],"range":[1270,632],"nice":false,"zero":false},"axis":{"orient":"left","offset":0,"values":[0,100,200,300,400,500,600,700],"tickSize":-13,"labelPadding":30,"labelFont":"Liberation Sans","labelFontWeight":"bold","labelFontSize":39}},
  "color":{"field":"s","type":"nominal","legend":null,"scale":{"domain":["0.1","1","3","5","7","9","11","13","15","17","20"],"range":["#000000","#FF0000","#0000FF","#FF00FF","#008000","#000080","#8000FF","#800080","#800000","#808000","#4F81BD"]}}}},
{"data":{"name":"pb"},"mark":{"type":"point","filled":true,"size":70,"opacity":1},
 "encoding":{
  "x":{"field":"h","type":"quantitative","title":null,"scale":{"domain":[-4.9,104.4],"range":[0,851],"nice":false,"zero":false},"axis":{"orient":"bottom","offset":0,"values":[10,30,50,70,90],"tickSize":-7,"labels":false,"domain":false}},
  "y":{"field":"z","type":"quantitative","title":null,"scale":{"domain":[-50.6,700],"range":[1270,632],"nice":false,"zero":false},"axis":{"orient":"left","offset":0,"values":[50,150,250,350,450,550,650],"tickSize":-7,"labels":false,"domain":false}},
  "color":{"field":"s","type":"nominal","legend":null,"scale":{"domain":["0.1","1","3","5","7","9","11","13","15","17","20"],"range":["#000000","#FF0000","#0000FF","#FF00FF","#008000","#000080","#8000FF","#800080","#800000","#808000","#4F81BD"]}},
  "shape":{"field":"s","type":"nominal","legend":null,"scale":{"domain":["0.1","1","3","5","7","9","11","13","15","17","20"],"range":["square","circle","triangle-up","triangle-down","diamond","triangle-left","triangle-right","M-1,0L-0.5,-0.866L0.5,-0.866L1,0L0.5,0.866L-0.5,0.866Z","M0,-1L0.235,-0.324L0.951,-0.309L0.38,0.124L0.588,0.809L0,0.4L-0.588,0.809L-0.38,0.124L-0.951,-0.309L-0.235,-0.324Z","M0,-1L0.951,-0.309L0.588,0.809L-0.588,0.809L-0.951,-0.309Z","circle"]}}}},
{"data":{"name":"one"},"mark":{"type":"point","opacity":0},
 "encoding":{
  "x":{"field":"k","type":"quantitative","title":null,"scale":{"domain":[-4.9,104.4],"range":[0,851],"nice":false,"zero":false},"axis":{"orient":"top","offset":-632,"values":[0,20,40,60,80,100],"tickSize":-13,"labels":false}},
  "y":{"field":"k","type":"quantitative","title":null,"scale":{"domain":[-50.6,700],"range":[1270,632],"nice":false,"zero":false},"axis":{"orient":"right","offset":0,"values":[0,100,200,300,400,500,600,700],"tickSize":-13,"labels":false}}}},
{"data":{"name":"one"},"mark":{"type":"point","opacity":0},
 "encoding":{
  "x":{"field":"k","type":"quantitative","title":null,"scale":{"domain":[-4.9,104.4],"range":[0,851],"nice":false,"zero":false},"axis":{"orient":"top","offset":-632,"values":[10,30,50,70,90],"tickSize":-7,"labels":false,"domain":false}},
  "y":{"field":"k","type":"quantitative","title":null,"scale":{"domain":[-50.6,700],"range":[1270,632],"nice":false,"zero":false},"axis":{"orient":"right","offset":0,"values":[50,150,250,350,450,550,650],"tickSize":-7,"labels":false,"domain":false}}}},
{"data":{"name":"pa"},"transform":[{"filter":"datum.h <= 1.1"}],"mark":{"type":"line","strokeWidth":1.1},
 "encoding":{
  "x":{"field":"h","type":"quantitative","title":null,"scale":{"domain":[-0.073,1.18],"range":[214,545],"nice":false,"zero":false},"axis":{"orient":"bottom","offset":-893,"values":[0,0.2,0.4,0.6,0.8,1],"format":".1f","tickSize":-6,"tickWidth":1.5,"domainWidth":1.5,"labelPadding":12,"labelFont":"Liberation Sans","labelFontSize":24}},
  "y":{"field":"z","type":"quantitative","title":null,"scale":{"domain":[-74,658],"range":[377,119],"nice":false,"zero":false},"axis":{"orient":"left","offset":-214,"values":[0,100,200,300,400,500,600],"tickSize":-6,"tickWidth":1.5,"domainWidth":1.5,"labelPadding":12,"labelFont":"Liberation Sans","labelFontSize":24}},
  "color":{"field":"s","type":"nominal","legend":null,"scale":{"domain":["0.1","1","3","5","7","9","11","13","15","17","20"],"range":["#000000","#FF0000","#0000FF","#FF00FF","#008000","#000080","#8000FF","#800080","#800000","#808000","#4F81BD"]}}}},
{"data":{"name":"pa"},"transform":[{"filter":"datum.h <= 1.1"}],"mark":{"type":"point","filled":true,"size":90,"opacity":1},
 "encoding":{
  "x":{"field":"h","type":"quantitative","title":null,"scale":{"domain":[-0.073,1.18],"range":[214,545],"nice":false,"zero":false},"axis":{"orient":"bottom","offset":-893,"values":[0.1,0.3,0.5,0.7,0.9,1.1],"tickSize":-3,"tickWidth":1.5,"labels":false,"domain":false}},
  "y":{"field":"z","type":"quantitative","title":null,"scale":{"domain":[-74,658],"range":[377,119],"nice":false,"zero":false},"axis":{"orient":"left","offset":-214,"values":[-50,50,150,250,350,450,550,650],"tickSize":-3,"tickWidth":1.5,"labels":false,"domain":false}},
  "color":{"field":"s","type":"nominal","legend":null,"scale":{"domain":["0.1","1","3","5","7","9","11","13","15","17","20"],"range":["#000000","#FF0000","#0000FF","#FF00FF","#008000","#000080","#8000FF","#800080","#800000","#808000","#4F81BD"]}},
  "shape":{"field":"s","type":"nominal","legend":null,"scale":{"domain":["0.1","1","3","5","7","9","11","13","15","17","20"],"range":["square","circle","triangle-up","triangle-down","diamond","triangle-left","triangle-right","M-1,0L-0.5,-0.866L0.5,-0.866L1,0L0.5,0.866L-0.5,0.866Z","M0,-1L0.235,-0.324L0.951,-0.309L0.38,0.124L0.588,0.809L0,0.4L-0.588,0.809L-0.38,0.124L-0.951,-0.309L-0.235,-0.324Z","M0,-1L0.951,-0.309L0.588,0.809L-0.588,0.809L-0.951,-0.309Z","circle"]}}}},
{"data":{"name":"one"},"mark":{"type":"point","opacity":0},
 "encoding":{
  "x":{"field":"k","type":"quantitative","title":null,"scale":{"domain":[-0.073,1.18],"range":[214,545],"nice":false,"zero":false},"axis":{"orient":"top","offset":-119,"values":[0,0.2,0.4,0.6,0.8,1],"tickSize":-6,"tickWidth":1.5,"domainWidth":1.5,"labels":false}},
  "y":{"field":"k","type":"quantitative","title":null,"scale":{"domain":[-74,658],"range":[377,119],"nice":false,"zero":false},"axis":{"orient":"right","offset":-306,"values":[0,100,200,300,400,500,600],"tickSize":-6,"tickWidth":1.5,"domainWidth":1.5,"labels":false}}}},
{"data":{"name":"one"},"mark":{"type":"point","opacity":0},
 "encoding":{
  "x":{"field":"k","type":"quantitative","title":null,"scale":{"domain":[-0.073,1.18],"range":[214,545],"nice":false,"zero":false},"axis":{"orient":"top","offset":-119,"values":[0.1,0.3,0.5,0.7,0.9,1.1],"tickSize":-3,"tickWidth":1.5,"labels":false,"domain":false}},
  "y":{"field":"k","type":"quantitative","title":null,"scale":{"domain":[-74,658],"range":[377,119],"nice":false,"zero":false},"axis":{"orient":"right","offset":-306,"values":[-50,50,150,250,350,450,550,650],"tickSize":-3,"tickWidth":1.5,"labels":false,"domain":false}}}},
{"data":{"name":"pb"},"transform":[{"filter":"datum.h <= 1.1"}],"mark":{"type":"line","strokeWidth":1.1},
 "encoding":{
  "x":{"field":"h","type":"quantitative","title":null,"scale":{"domain":[-0.102,1.18],"range":[198,546],"nice":false,"zero":false},"axis":{"orient":"bottom","offset":-270,"values":[0,0.2,0.4,0.6,0.8,1],"format":".1f","tickSize":-6,"tickWidth":1.5,"domainWidth":1.5,"labelPadding":12,"labelFont":"Liberation Sans","labelFontSize":24}},
  "y":{"field":"z","type":"quantitative","title":null,"scale":{"domain":[-79,709],"range":[1000,750],"nice":false,"zero":false},"axis":{"orient":"left","offset":-198,"values":[0,100,200,300,400,500,600,700],"tickSize":-6,"tickWidth":1.5,"domainWidth":1.5,"labelPadding":12,"labelFont":"Liberation Sans","labelFontSize":24}},
  "color":{"field":"s","type":"nominal","legend":null,"scale":{"domain":["0.1","1","3","5","7","9","11","13","15","17","20"],"range":["#000000","#FF0000","#0000FF","#FF00FF","#008000","#000080","#8000FF","#800080","#800000","#808000","#4F81BD"]}}}},
{"data":{"name":"pb"},"transform":[{"filter":"datum.h <= 1.1"}],"mark":{"type":"point","filled":true,"size":90,"opacity":1},
 "encoding":{
  "x":{"field":"h","type":"quantitative","title":null,"scale":{"domain":[-0.102,1.18],"range":[198,546],"nice":false,"zero":false},"axis":{"orient":"bottom","offset":-270,"values":[0.1,0.3,0.5,0.7,0.9,1.1],"tickSize":-3,"tickWidth":1.5,"labels":false,"domain":false}},
  "y":{"field":"z","type":"quantitative","title":null,"scale":{"domain":[-79,709],"range":[1000,750],"nice":false,"zero":false},"axis":{"orient":"left","offset":-198,"values":[-50,50,150,250,350,450,550,650],"tickSize":-3,"tickWidth":1.5,"labels":false,"domain":false}},
  "color":{"field":"s","type":"nominal","legend":null,"scale":{"domain":["0.1","1","3","5","7","9","11","13","15","17","20"],"range":["#000000","#FF0000","#0000FF","#FF00FF","#008000","#000080","#8000FF","#800080","#800000","#808000","#4F81BD"]}},
  "shape":{"field":"s","type":"nominal","legend":null,"scale":{"domain":["0.1","1","3","5","7","9","11","13","15","17","20"],"range":["square","circle","triangle-up","triangle-down","diamond","triangle-left","triangle-right","M-1,0L-0.5,-0.866L0.5,-0.866L1,0L0.5,0.866L-0.5,0.866Z","M0,-1L0.235,-0.324L0.951,-0.309L0.38,0.124L0.588,0.809L0,0.4L-0.588,0.809L-0.38,0.124L-0.951,-0.309L-0.235,-0.324Z","M0,-1L0.951,-0.309L0.588,0.809L-0.588,0.809L-0.951,-0.309Z","circle"]}}}},
{"data":{"name":"one"},"mark":{"type":"point","opacity":0},
 "encoding":{
  "x":{"field":"k","type":"quantitative","title":null,"scale":{"domain":[-0.102,1.18],"range":[198,546],"nice":false,"zero":false},"axis":{"orient":"top","offset":-750,"values":[0,0.2,0.4,0.6,0.8,1],"tickSize":-6,"tickWidth":1.5,"domainWidth":1.5,"labels":false}},
  "y":{"field":"k","type":"quantitative","title":null,"scale":{"domain":[-79,709],"range":[1000,750],"nice":false,"zero":false},"axis":{"orient":"right","offset":-305,"values":[0,100,200,300,400,500,600,700],"tickSize":-6,"tickWidth":1.5,"domainWidth":1.5,"labels":false}}}},
{"data":{"name":"one"},"mark":{"type":"point","opacity":0},
 "encoding":{
  "x":{"field":"k","type":"quantitative","title":null,"scale":{"domain":[-0.102,1.18],"range":[198,546],"nice":false,"zero":false},"axis":{"orient":"top","offset":-750,"values":[0.1,0.3,0.5,0.7,0.9,1.1],"tickSize":-3,"tickWidth":1.5,"labels":false,"domain":false}},
  "y":{"field":"k","type":"quantitative","title":null,"scale":{"domain":[-79,709],"range":[1000,750],"nice":false,"zero":false},"axis":{"orient":"right","offset":-305,"values":[-50,50,150,250,350,450,550,650],"tickSize":-3,"tickWidth":1.5,"labels":false,"domain":false}}}},
{"data":{"name":"one"},"mark":{"type":"rect","fill":"black"},
 "encoding":{"x":{"datum":0.0343,"type":"quantitative","scale":{"domain":[0,1],"range":[580,813],"nice":false,"zero":false},"axis":null},"x2":{"datum":1.0343},
  "y":{"datum":-0.515,"type":"quantitative","scale":{"domain":[0,10],"range":[70,458],"nice":false,"zero":false},"axis":null},"y2":{"datum":10.77}}},
{"data":{"name":"one"},"mark":{"type":"rect","fill":"white","stroke":"black","strokeWidth":1.5},
 "encoding":{"x":{"datum":0,"type":"quantitative","scale":{"domain":[0,1],"range":[580,813],"nice":false,"zero":false},"axis":null},"x2":{"datum":1},
  "y":{"datum":-0.72,"type":"quantitative","scale":{"domain":[0,10],"range":[70,458],"nice":false,"zero":false},"axis":null},"y2":{"datum":10.57}}},
{"data":{"name":"leg"},"mark":{"type":"rule","strokeWidth":1.1},
 "encoding":{"x":{"datum":0.073,"type":"quantitative","scale":{"domain":[0,1],"range":[580,813],"nice":false,"zero":false},"axis":null},"x2":{"datum":0.305},
  "y":{"field":"r","type":"quantitative","scale":{"domain":[0,10],"range":[70,458],"nice":false,"zero":false},"axis":null},
  "color":{"field":"s","type":"nominal","legend":null,"scale":{"domain":["0.1","1","3","5","7","9","11","13","15","17","20"],"range":["#000000","#FF0000","#0000FF","#FF00FF","#008000","#000080","#8000FF","#800080","#800000","#808000","#4F81BD"]}}}},
{"data":{"name":"leg"},"mark":{"type":"point","filled":true,"size":50,"opacity":1},
 "encoding":{"x":{"datum":0.19,"type":"quantitative","scale":{"domain":[0,1],"range":[580,813],"nice":false,"zero":false},"axis":null},
  "y":{"field":"r","type":"quantitative","scale":{"domain":[0,10],"range":[70,458],"nice":false,"zero":false},"axis":null},
  "color":{"field":"s","type":"nominal","legend":null,"scale":{"domain":["0.1","1","3","5","7","9","11","13","15","17","20"],"range":["#000000","#FF0000","#0000FF","#FF00FF","#008000","#000080","#8000FF","#800080","#800000","#808000","#4F81BD"]}},
  "shape":{"field":"s","type":"nominal","legend":null,"scale":{"domain":["0.1","1","3","5","7","9","11","13","15","17","20"],"range":["square","circle","triangle-up","triangle-down","diamond","triangle-left","triangle-right","M-1,0L-0.5,-0.866L0.5,-0.866L1,0L0.5,0.866L-0.5,0.866Z","M0,-1L0.235,-0.324L0.951,-0.309L0.38,0.124L0.588,0.809L0,0.4L-0.588,0.809L-0.38,0.124L-0.951,-0.309L-0.235,-0.324Z","M0,-1L0.951,-0.309L0.588,0.809L-0.588,0.809L-0.951,-0.309Z","circle"]}}}},
{"data":{"name":"leg"},"mark":{"type":"text","align":"left","baseline":"middle","font":"Liberation Serif","fontWeight":"bold","fontSize":35,"fill":"black"},
 "encoding":{"x":{"datum":0.33,"type":"quantitative","scale":{"domain":[0,1],"range":[580,813],"nice":false,"zero":false},"axis":null},
  "y":{"field":"r","type":"quantitative","scale":{"domain":[0,10],"range":[70,458],"nice":false,"zero":false},"axis":null},
  "text":{"field":"label"}}},
{"data":{"name":"one"},"mark":{"type":"rect","fill":"black"},
 "encoding":{"x":{"datum":0.036,"type":"quantitative","scale":{"domain":[0,1],"range":[593,815],"nice":false,"zero":false},"axis":null},"x2":{"datum":1.036},
  "y":{"datum":-0.56,"type":"quantitative","scale":{"domain":[0,10],"range":[702,1077],"nice":false,"zero":false},"axis":null},"y2":{"datum":10.64}}},
{"data":{"name":"one"},"mark":{"type":"rect","fill":"white","stroke":"black","strokeWidth":1.5},
 "encoding":{"x":{"datum":0,"type":"quantitative","scale":{"domain":[0,1],"range":[593,815],"nice":false,"zero":false},"axis":null},"x2":{"datum":1},
  "y":{"datum":-0.775,"type":"quantitative","scale":{"domain":[0,10],"range":[702,1077],"nice":false,"zero":false},"axis":null},"y2":{"datum":10.43}}},
{"data":{"name":"leg"},"mark":{"type":"rule","strokeWidth":1.1},
 "encoding":{"x":{"datum":0.0766,"type":"quantitative","scale":{"domain":[0,1],"range":[593,815],"nice":false,"zero":false},"axis":null},"x2":{"datum":0.288},
  "y":{"field":"r","type":"quantitative","scale":{"domain":[0,10],"range":[702,1077],"nice":false,"zero":false},"axis":null},
  "color":{"field":"s","type":"nominal","legend":null,"scale":{"domain":["0.1","1","3","5","7","9","11","13","15","17","20"],"range":["#000000","#FF0000","#0000FF","#FF00FF","#008000","#000080","#8000FF","#800080","#800000","#808000","#4F81BD"]}}}},
{"data":{"name":"leg"},"mark":{"type":"point","filled":true,"size":50,"opacity":1},
 "encoding":{"x":{"datum":0.182,"type":"quantitative","scale":{"domain":[0,1],"range":[593,815],"nice":false,"zero":false},"axis":null},
  "y":{"field":"r","type":"quantitative","scale":{"domain":[0,10],"range":[702,1077],"nice":false,"zero":false},"axis":null},
  "color":{"field":"s","type":"nominal","legend":null,"scale":{"domain":["0.1","1","3","5","7","9","11","13","15","17","20"],"range":["#000000","#FF0000","#0000FF","#FF00FF","#008000","#000080","#8000FF","#800080","#800000","#808000","#4F81BD"]}},
  "shape":{"field":"s","type":"nominal","legend":null,"scale":{"domain":["0.1","1","3","5","7","9","11","13","15","17","20"],"range":["square","circle","triangle-up","triangle-down","diamond","triangle-left","triangle-right","M-1,0L-0.5,-0.866L0.5,-0.866L1,0L0.5,0.866L-0.5,0.866Z","M0,-1L0.235,-0.324L0.951,-0.309L0.38,0.124L0.588,0.809L0,0.4L-0.588,0.809L-0.38,0.124L-0.951,-0.309L-0.235,-0.324Z","M0,-1L0.951,-0.309L0.588,0.809L-0.588,0.809L-0.951,-0.309Z","circle"]}}}},
{"data":{"name":"leg"},"mark":{"type":"text","align":"left","baseline":"middle","font":"Liberation Serif","fontWeight":"bold","fontSize":35,"fill":"black"},
 "encoding":{"x":{"datum":0.315,"type":"quantitative","scale":{"domain":[0,1],"range":[593,815],"nice":false,"zero":false},"axis":null},
  "y":{"field":"r","type":"quantitative","scale":{"domain":[0,10],"range":[702,1077],"nice":false,"zero":false},"axis":null},
  "text":{"field":"label"}}},
{"data":{"name":"one"},"mark":{"type":"rect","fill":"black"},
 "encoding":{"x":{"datum":8.34,"type":"quantitative","scale":{"domain":[-4.9,104.4],"range":[0,851],"nice":false,"zero":false},"axis":null},"x2":{"datum":65.2},
  "y":{"datum":583.2,"type":"quantitative","scale":{"domain":[-97,650],"range":[632,0],"nice":false,"zero":false},"axis":null},"y2":{"datum":531.3}}},
{"data":{"name":"one"},"mark":{"type":"rect","fill":"white","stroke":"black","strokeWidth":1.5},
 "encoding":{"x":{"datum":7.32,"type":"quantitative","scale":{"domain":[-4.9,104.4],"range":[0,851],"nice":false,"zero":false},"axis":null},"x2":{"datum":64.2},
  "y":{"datum":592.7,"type":"quantitative","scale":{"domain":[-97,650],"range":[632,0],"nice":false,"zero":false},"axis":null},"y2":{"datum":540.7}}},
{"data":{"name":"one"},"mark":{"type":"text","text":"Current Value=80 mA","align":"center","baseline":"alphabetic","font":"Liberation Serif","fontWeight":"bold","fontSize":43,"fill":"black"},
 "encoding":{"x":{"datum":35.8,"type":"quantitative","scale":{"domain":[-4.9,104.4],"range":[0,851],"nice":false,"zero":false},"axis":null},
  "y":{"datum":547.8,"type":"quantitative","scale":{"domain":[-97,650],"range":[632,0],"nice":false,"zero":false},"axis":null}}},
{"data":{"name":"one"},"mark":{"type":"rect","fill":"black"},
 "encoding":{"x":{"datum":10.65,"type":"quantitative","scale":{"domain":[-4.9,104.4],"range":[0,851],"nice":false,"zero":false},"axis":null},"x2":{"datum":65.08},
  "y":{"datum":637.6,"type":"quantitative","scale":{"domain":[-50.6,700],"range":[1270,632],"nice":false,"zero":false},"axis":null},"y2":{"datum":585.9}}},
{"data":{"name":"one"},"mark":{"type":"rect","fill":"white","stroke":"black","strokeWidth":1.5},
 "encoding":{"x":{"datum":9.63,"type":"quantitative","scale":{"domain":[-4.9,104.4],"range":[0,851],"nice":false,"zero":false},"axis":null},"x2":{"datum":64.06},
  "y":{"datum":647,"type":"quantitative","scale":{"domain":[-50.6,700],"range":[1270,632],"nice":false,"zero":false},"axis":null},"y2":{"datum":595.3}}},
{"data":{"name":"one"},"mark":{"type":"text","text":"Current Value=60 mA","align":"center","baseline":"alphabetic","font":"Liberation Serif","fontWeight":"bold","fontSize":43,"fill":"black"},
 "encoding":{"x":{"datum":36.8,"type":"quantitative","scale":{"domain":[-4.9,104.4],"range":[0,851],"nice":false,"zero":false},"axis":null},
  "y":{"datum":604.7,"type":"quantitative","scale":{"domain":[-50.6,700],"range":[1270,632],"nice":false,"zero":false},"axis":null}}},
{"data":{"name":"one"},"mark":{"type":"text","text":"(a)","align":"center","baseline":"alphabetic","font":"Liberation Serif","fontWeight":"bold","fontSize":62,"fill":"black"},
 "encoding":{"x":{"datum":58.9,"type":"quantitative","scale":{"domain":[-4.9,104.4],"range":[0,851],"nice":false,"zero":false},"axis":null},
  "y":{"datum":88.5,"type":"quantitative","scale":{"domain":[-97,650],"range":[632,0],"nice":false,"zero":false},"axis":null}}},
{"data":{"name":"one"},"mark":{"type":"text","text":"(b)","align":"center","baseline":"alphabetic","font":"Liberation Serif","fontWeight":"bold","fontSize":62,"fill":"black"},
 "encoding":{"x":{"datum":58.9,"type":"quantitative","scale":{"domain":[-4.9,104.4],"range":[0,851],"nice":false,"zero":false},"axis":null},
  "y":{"datum":145.9,"type":"quantitative","scale":{"domain":[-50.6,700],"range":[1270,632],"nice":false,"zero":false},"axis":null}}},
{"data":{"name":"one"},"mark":{"type":"text","text":"ΔZ/Z","angle":270,"align":"left","baseline":"alphabetic","font":"Liberation Serif","fontWeight":"bold","fontSize":56,"fill":"black"},
 "encoding":{"x":{"datum":-17.3,"type":"quantitative","scale":{"domain":[-4.9,104.4],"range":[0,851],"nice":false,"zero":false},"axis":null},
  "y":{"datum":106.3,"type":"quantitative","scale":{"domain":[-97,650],"range":[632,0],"nice":false,"zero":false},"axis":null}}},
{"data":{"name":"one"},"mark":{"type":"text","text":"0","angle":270,"align":"left","baseline":"alphabetic","font":"Liberation Serif","fontWeight":"bold","fontSize":36,"fill":"black"},
 "encoding":{"x":{"datum":-16.2,"type":"quantitative","scale":{"domain":[-4.9,104.4],"range":[0,851],"nice":false,"zero":false},"axis":null},
  "y":{"datum":252.7,"type":"quantitative","scale":{"domain":[-97,650],"range":[632,0],"nice":false,"zero":false},"axis":null}}},
{"data":{"name":"one"},"mark":{"type":"text","text":"(%)","angle":270,"align":"left","baseline":"alphabetic","font":"Liberation Serif","fontWeight":"bold","fontSize":56,"fill":"black"},
 "encoding":{"x":{"datum":-17.3,"type":"quantitative","scale":{"domain":[-4.9,104.4],"range":[0,851],"nice":false,"zero":false},"axis":null},
  "y":{"datum":288.1,"type":"quantitative","scale":{"domain":[-97,650],"range":[632,0],"nice":false,"zero":false},"axis":null}}},
{"data":{"name":"one"},"mark":{"type":"text","text":"ΔZ/Z","angle":270,"align":"left","baseline":"alphabetic","font":"Liberation Serif","fontWeight":"bold","fontSize":56,"fill":"black"},
 "encoding":{"x":{"datum":-17.3,"type":"quantitative","scale":{"domain":[-4.9,104.4],"range":[0,851],"nice":false,"zero":false},"axis":null},
  "y":{"datum":125.9,"type":"quantitative","scale":{"domain":[-50.6,700],"range":[1270,632],"nice":false,"zero":false},"axis":null}}},
{"data":{"name":"one"},"mark":{"type":"text","text":"max","angle":270,"align":"left","baseline":"alphabetic","font":"Liberation Serif","fontWeight":"bold","fontSize":36,"fill":"black"},
 "encoding":{"x":{"datum":-16.2,"type":"quantitative","scale":{"domain":[-4.9,104.4],"range":[0,851],"nice":false,"zero":false},"axis":null},
  "y":{"datum":271.8,"type":"quantitative","scale":{"domain":[-50.6,700],"range":[1270,632],"nice":false,"zero":false},"axis":null}}},
{"data":{"name":"one"},"mark":{"type":"text","text":"(%)","angle":270,"align":"left","baseline":"alphabetic","font":"Liberation Serif","fontWeight":"bold","fontSize":56,"fill":"black"},
 "encoding":{"x":{"datum":-17.3,"type":"quantitative","scale":{"domain":[-4.9,104.4],"range":[0,851],"nice":false,"zero":false},"axis":null},
  "y":{"datum":363.5,"type":"quantitative","scale":{"domain":[-50.6,700],"range":[1270,632],"nice":false,"zero":false},"axis":null}}},
{"data":{"name":"one"},"mark":{"type":"text","text":"H","align":"left","baseline":"alphabetic","font":"Liberation Serif","fontStyle":"italic","fontSize":46,"fill":"black"},
 "encoding":{"x":{"datum":39.4,"type":"quantitative","scale":{"domain":[-4.9,104.4],"range":[0,851],"nice":false,"zero":false},"axis":null},
  "y":{"datum":-150.6,"type":"quantitative","scale":{"domain":[-50.6,700],"range":[1270,632],"nice":false,"zero":false},"axis":null}}},
{"data":{"name":"one"},"mark":{"type":"text","text":"ex","align":"left","baseline":"alphabetic","font":"Liberation Serif","fontSize":32,"fill":"black"},
 "encoding":{"x":{"datum":44.6,"type":"quantitative","scale":{"domain":[-4.9,104.4],"range":[0,851],"nice":false,"zero":false},"axis":null},
  "y":{"datum":-163.5,"type":"quantitative","scale":{"domain":[-50.6,700],"range":[1270,632],"nice":false,"zero":false},"axis":null}}},
{"data":{"name":"one"},"mark":{"type":"text","text":"(Oe)","align":"left","baseline":"alphabetic","font":"Liberation Serif","fontSize":46,"fill":"black"},
 "encoding":{"x":{"datum":49.5,"type":"quantitative","scale":{"domain":[-4.9,104.4],"range":[0,851],"nice":false,"zero":false},"axis":null},
  "y":{"datum":-150.6,"type":"quantitative","scale":{"domain":[-50.6,700],"range":[1270,632],"nice":false,"zero":false},"axis":null}}}
]
}
